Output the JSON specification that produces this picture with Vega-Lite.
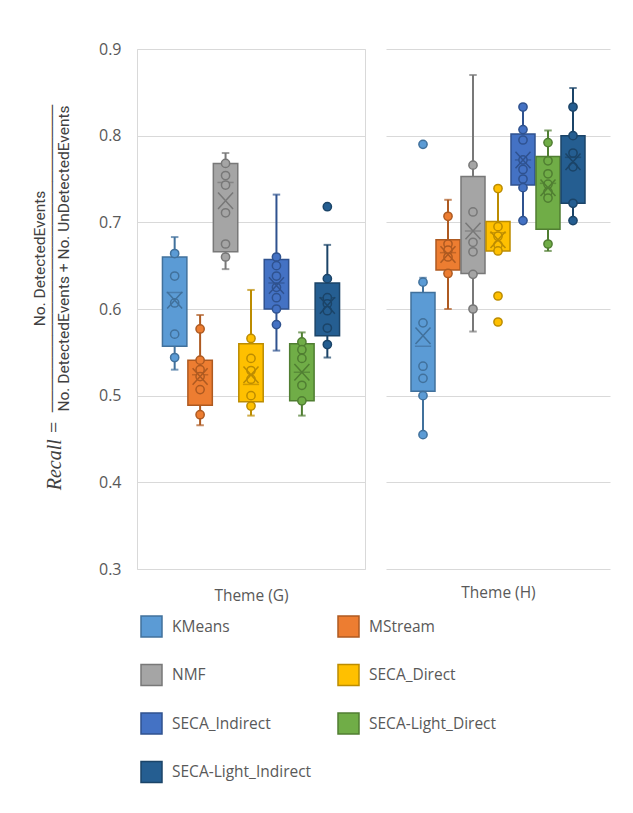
{
  "$schema": "https://vega.github.io/schema/vega-lite/v6.json",
  "background": "white",
  "padding": {"left": 32, "top": 40, "right": 5, "bottom": 5},
  "datasets": {
    "box": [
      {"theme": "G", "method": "KMeans", "lo": 0.530, "q1": 0.557, "med": 0.619, "q3": 0.660, "hi": 0.683, "mean": 0.610},
      {"theme": "G", "method": "MStream", "lo": 0.466, "q1": 0.489, "med": 0.524, "q3": 0.541, "hi": 0.593, "mean": 0.522},
      {"theme": "G", "method": "NMF", "lo": 0.646, "q1": 0.666, "med": 0.746, "q3": 0.768, "hi": 0.780, "mean": 0.725},
      {"theme": "G", "method": "SECA_Direct", "lo": 0.477, "q1": 0.493, "med": 0.513, "q3": 0.560, "hi": 0.622, "mean": 0.524},
      {"theme": "G", "method": "SECA_Indirect", "lo": 0.552, "q1": 0.600, "med": 0.630, "q3": 0.657, "hi": 0.732, "mean": 0.627},
      {"theme": "G", "method": "SECA-Light_Direct", "lo": 0.477, "q1": 0.494, "med": 0.527, "q3": 0.560, "hi": 0.573, "mean": 0.527},
      {"theme": "G", "method": "SECA-Light_Indirect", "lo": 0.544, "q1": 0.569, "med": 0.613, "q3": 0.630, "hi": 0.674, "mean": 0.604},
      {"theme": "H", "method": "KMeans", "lo": 0.455, "q1": 0.505, "med": 0.557, "q3": 0.619, "hi": 0.636, "mean": 0.569},
      {"theme": "H", "method": "MStream", "lo": 0.600, "q1": 0.645, "med": 0.665, "q3": 0.680, "hi": 0.726, "mean": 0.663},
      {"theme": "H", "method": "NMF", "lo": 0.574, "q1": 0.641, "med": 0.690, "q3": 0.753, "hi": 0.870, "mean": 0.690},
      {"theme": "H", "method": "SECA_Direct", "lo": 0.666, "q1": 0.667, "med": 0.688, "q3": 0.701, "hi": 0.739, "mean": 0.680},
      {"theme": "H", "method": "SECA_Indirect", "lo": 0.702, "q1": 0.743, "med": 0.772, "q3": 0.802, "hi": 0.833, "mean": 0.772},
      {"theme": "H", "method": "SECA-Light_Direct", "lo": 0.667, "q1": 0.692, "med": 0.745, "q3": 0.776, "hi": 0.806, "mean": 0.740},
      {"theme": "H", "method": "SECA-Light_Indirect", "lo": 0.702, "q1": 0.722, "med": 0.775, "q3": 0.800, "hi": 0.855, "mean": 0.770}
    ],
    "pts": [
      {"theme": "G", "method": "KMeans", "value": 0.664},
      {"theme": "G", "method": "KMeans", "value": 0.638},
      {"theme": "G", "method": "KMeans", "value": 0.607},
      {"theme": "G", "method": "KMeans", "value": 0.571},
      {"theme": "G", "method": "KMeans", "value": 0.544},
      {"theme": "G", "method": "MStream", "value": 0.577},
      {"theme": "G", "method": "MStream", "value": 0.541},
      {"theme": "G", "method": "MStream", "value": 0.530},
      {"theme": "G", "method": "MStream", "value": 0.522},
      {"theme": "G", "method": "MStream", "value": 0.507},
      {"theme": "G", "method": "MStream", "value": 0.478},
      {"theme": "G", "method": "NMF", "value": 0.768},
      {"theme": "G", "method": "NMF", "value": 0.754},
      {"theme": "G", "method": "NMF", "value": 0.743},
      {"theme": "G", "method": "NMF", "value": 0.711},
      {"theme": "G", "method": "NMF", "value": 0.675},
      {"theme": "G", "method": "NMF", "value": 0.660},
      {"theme": "G", "method": "SECA_Direct", "value": 0.566},
      {"theme": "G", "method": "SECA_Direct", "value": 0.543},
      {"theme": "G", "method": "SECA_Direct", "value": 0.529},
      {"theme": "G", "method": "SECA_Direct", "value": 0.519},
      {"theme": "G", "method": "SECA_Direct", "value": 0.500},
      {"theme": "G", "method": "SECA_Direct", "value": 0.488},
      {"theme": "G", "method": "SECA_Indirect", "value": 0.660},
      {"theme": "G", "method": "SECA_Indirect", "value": 0.650},
      {"theme": "G", "method": "SECA_Indirect", "value": 0.638},
      {"theme": "G", "method": "SECA_Indirect", "value": 0.625},
      {"theme": "G", "method": "SECA_Indirect", "value": 0.613},
      {"theme": "G", "method": "SECA_Indirect", "value": 0.600},
      {"theme": "G", "method": "SECA_Indirect", "value": 0.582},
      {"theme": "G", "method": "SECA-Light_Direct", "value": 0.562},
      {"theme": "G", "method": "SECA-Light_Direct", "value": 0.553},
      {"theme": "G", "method": "SECA-Light_Direct", "value": 0.543},
      {"theme": "G", "method": "SECA-Light_Direct", "value": 0.512},
      {"theme": "G", "method": "SECA-Light_Direct", "value": 0.494},
      {"theme": "G", "method": "SECA-Light_Indirect", "value": 0.718},
      {"theme": "G", "method": "SECA-Light_Indirect", "value": 0.635},
      {"theme": "G", "method": "SECA-Light_Indirect", "value": 0.613},
      {"theme": "G", "method": "SECA-Light_Indirect", "value": 0.606},
      {"theme": "G", "method": "SECA-Light_Indirect", "value": 0.598},
      {"theme": "G", "method": "SECA-Light_Indirect", "value": 0.578},
      {"theme": "G", "method": "SECA-Light_Indirect", "value": 0.559},
      {"theme": "H", "method": "KMeans", "value": 0.790},
      {"theme": "H", "method": "KMeans", "value": 0.631},
      {"theme": "H", "method": "KMeans", "value": 0.584},
      {"theme": "H", "method": "KMeans", "value": 0.534},
      {"theme": "H", "method": "KMeans", "value": 0.520},
      {"theme": "H", "method": "KMeans", "value": 0.500},
      {"theme": "H", "method": "KMeans", "value": 0.455},
      {"theme": "H", "method": "MStream", "value": 0.707},
      {"theme": "H", "method": "MStream", "value": 0.675},
      {"theme": "H", "method": "MStream", "value": 0.668},
      {"theme": "H", "method": "MStream", "value": 0.660},
      {"theme": "H", "method": "MStream", "value": 0.641},
      {"theme": "H", "method": "NMF", "value": 0.766},
      {"theme": "H", "method": "NMF", "value": 0.712},
      {"theme": "H", "method": "NMF", "value": 0.677},
      {"theme": "H", "method": "NMF", "value": 0.666},
      {"theme": "H", "method": "NMF", "value": 0.640},
      {"theme": "H", "method": "NMF", "value": 0.600},
      {"theme": "H", "method": "SECA_Direct", "value": 0.739},
      {"theme": "H", "method": "SECA_Direct", "value": 0.695},
      {"theme": "H", "method": "SECA_Direct", "value": 0.684},
      {"theme": "H", "method": "SECA_Direct", "value": 0.674},
      {"theme": "H", "method": "SECA_Direct", "value": 0.667},
      {"theme": "H", "method": "SECA_Direct", "value": 0.615},
      {"theme": "H", "method": "SECA_Direct", "value": 0.585},
      {"theme": "H", "method": "SECA_Indirect", "value": 0.833},
      {"theme": "H", "method": "SECA_Indirect", "value": 0.807},
      {"theme": "H", "method": "SECA_Indirect", "value": 0.795},
      {"theme": "H", "method": "SECA_Indirect", "value": 0.772},
      {"theme": "H", "method": "SECA_Indirect", "value": 0.761},
      {"theme": "H", "method": "SECA_Indirect", "value": 0.750},
      {"theme": "H", "method": "SECA_Indirect", "value": 0.740},
      {"theme": "H", "method": "SECA_Indirect", "value": 0.702},
      {"theme": "H", "method": "SECA-Light_Direct", "value": 0.792},
      {"theme": "H", "method": "SECA-Light_Direct", "value": 0.771},
      {"theme": "H", "method": "SECA-Light_Direct", "value": 0.756},
      {"theme": "H", "method": "SECA-Light_Direct", "value": 0.744},
      {"theme": "H", "method": "SECA-Light_Direct", "value": 0.735},
      {"theme": "H", "method": "SECA-Light_Direct", "value": 0.728},
      {"theme": "H", "method": "SECA-Light_Direct", "value": 0.675},
      {"theme": "H", "method": "SECA-Light_Indirect", "value": 0.833},
      {"theme": "H", "method": "SECA-Light_Indirect", "value": 0.800},
      {"theme": "H", "method": "SECA-Light_Indirect", "value": 0.780},
      {"theme": "H", "method": "SECA-Light_Indirect", "value": 0.764},
      {"theme": "H", "method": "SECA-Light_Indirect", "value": 0.722},
      {"theme": "H", "method": "SECA-Light_Indirect", "value": 0.702}
    ]
  },
  "spacing": 20,
  "hconcat": [
    {
      "width": 228,
      "height": 520,
      "view": {"stroke": "#D9D9D9"},
      "resolve": {"axis": {"y": "independent"}},
      "layer": [
        {
          "encoding": {
            "x": {"field": "method", "type": "nominal",
              "scale": {"domain": ["KMeans","MStream","NMF","SECA_Direct","SECA_Indirect","SECA-Light_Direct","SECA-Light_Indirect"], "paddingInner": 0.04, "paddingOuter": 3.5},
              "axis": {"title": "Theme (G)", "labels": false, "ticks": false, "domain": false, "titlePadding": 19}}
          },
          "layer": [
            {
              "data": {"name": "box"},
              "transform": [{"filter": "datum.theme === 'G'"}],
              "mark": {"type": "rule", "strokeWidth": 2},
              "encoding": {
                "y": {"field": "lo", "type": "quantitative",
                  "scale": {"domain": [0.3, 0.9], "nice": false, "zero": false},
                  "axis": {"values": [0.3,0.4,0.5,0.6,0.7,0.8,0.9], "format": ".1f", "grid": true, "ticks": false, "domain": false, "labelPadding": 16,
                    "title": ["No. DetectedEvents", "────────────────────────────", "No. DetectedEvents + No. UnDetectedEvents"],
                    "titleFont": "Roboto", "titleFontSize": 15.5, "titleLineHeight": 12, "titleColor": "#404040", "titlePadding": 27, "titleY": 209}},
                "y2": {"field": "hi"},
                "stroke": {"field": "method", "type": "nominal", "legend": {"title": null},
                  "scale": {"domain": ["KMeans","MStream","NMF","SECA_Direct","SECA_Indirect","SECA-Light_Direct","SECA-Light_Indirect"],
                    "range": ["#41719C","#AE5A21","#787878","#BC8C00","#2F528F","#507E32","#1B4468"]}}
              }
            },
            {
              "data": {"name": "box"},
              "transform": [{"filter": "datum.theme === 'G'"}],
              "mark": {"type": "tick", "filled": false, "thickness": 0.5, "strokeWidth": 1.5, "size": 6},
              "encoding": {
                "y": {"field": "lo", "type": "quantitative"},
                "stroke": {"field": "method", "type": "nominal"}
              }
            },
            {
              "data": {"name": "box"},
              "transform": [{"filter": "datum.theme === 'G'"}],
              "mark": {"type": "tick", "filled": false, "thickness": 0.5, "strokeWidth": 1.5, "size": 6},
              "encoding": {
                "y": {"field": "hi", "type": "quantitative"},
                "stroke": {"field": "method", "type": "nominal"}
              }
            },
            {
              "data": {"name": "box"},
              "transform": [{"filter": "datum.theme === 'G'"}],
              "mark": {"type": "bar", "strokeWidth": 1.5},
              "encoding": {
                "y": {"field": "q1", "type": "quantitative"},
                "y2": {"field": "q3"},
                "fill": {"field": "method", "type": "nominal", "legend": {"title": null},
                  "scale": {"domain": ["KMeans","MStream","NMF","SECA_Direct","SECA_Indirect","SECA-Light_Direct","SECA-Light_Indirect"],
                    "range": ["#5B9BD5","#ED7D31","#A5A5A5","#FFC000","#4472C4","#70AD47","#255E91"]}},
                "stroke": {"field": "method", "type": "nominal"}
              }
            },
            {
              "data": {"name": "box"},
              "transform": [{"filter": "datum.theme === 'G'"}],
              "mark": {"type": "tick", "filled": false, "thickness": 0.3, "strokeWidth": 1.2, "size": 15},
              "encoding": {
                "y": {"field": "med", "type": "quantitative"},
                "stroke": {"field": "method", "type": "nominal"}
              }
            },
            {
              "data": {"name": "pts"},
              "transform": [{"filter": "datum.theme === 'G'"}],
              "mark": {"type": "point", "shape": "circle", "size": 68, "filled": true, "opacity": 1, "strokeWidth": 1.5},
              "encoding": {
                "y": {"field": "value", "type": "quantitative"},
                "fill": {"field": "method", "type": "nominal"},
                "stroke": {"field": "method", "type": "nominal"}
              }
            },
            {
              "data": {"name": "box"},
              "transform": [{"filter": "datum.theme === 'G'"}],
              "mark": {"type": "point", "shape": "M-1,-1.1L1,1.1M1,-1.1L-1,1.1", "size": 225, "filled": false, "opacity": 1, "strokeWidth": 1.5},
              "encoding": {
                "y": {"field": "mean", "type": "quantitative"},
                "stroke": {"field": "method", "type": "nominal"}
              }
            }
          ]
        },
        {
          "data": {"name": "box"},
          "mark": {"type": "rule", "opacity": 0},
          "encoding": {
            "y": {"field": "lo", "type": "quantitative",
              "scale": {"domain": [0.3, 0.9], "nice": false, "zero": false},
              "axis": {"orient": "left", "title": "Recall =", "labels": false, "ticks": false, "domain": false, "grid": false,
                "titleFont": "Liberation Serif", "titleFontStyle": "italic", "titleFontWeight": "normal", "titleFontSize": 20, "titleColor": "#404040",
                "titleX": -77, "titleY": 406, "titleAngle": 270, "titleAlign": "center", "titleBaseline": "alphabetic"}}
          }
        }
      ]
    },
    {
      "width": 224,
      "height": 520,
      "encoding": {
        "x": {"field": "method", "type": "nominal",
          "scale": {"domain": ["KMeans","MStream","NMF","SECA_Direct","SECA_Indirect","SECA-Light_Direct","SECA-Light_Indirect"], "paddingInner": 0.04, "paddingOuter": 3.5},
          "axis": {"title": "Theme (H)", "labels": false, "ticks": false, "domain": false, "titlePadding": 16}}
      },
      "layer": [
        {
          "data": {"name": "box"},
          "transform": [{"filter": "datum.theme === 'H'"}],
          "mark": {"type": "rule", "strokeWidth": 2},
          "encoding": {
            "y": {"field": "lo", "type": "quantitative",
              "scale": {"domain": [0.3, 0.9], "nice": false, "zero": false},
              "axis": {"values": [0.3,0.4,0.5,0.6,0.7,0.8,0.9], "grid": true, "labels": false, "ticks": false, "domain": false, "title": null}},
            "y2": {"field": "hi"},
            "stroke": {"field": "method", "type": "nominal"}
          }
        },
        {
          "data": {"name": "box"},
          "transform": [{"filter": "datum.theme === 'H'"}],
          "mark": {"type": "tick", "filled": false, "thickness": 0.5, "strokeWidth": 1.5, "size": 6},
          "encoding": {
            "y": {"field": "lo", "type": "quantitative"},
            "stroke": {"field": "method", "type": "nominal"}
          }
        },
        {
          "data": {"name": "box"},
          "transform": [{"filter": "datum.theme === 'H'"}],
          "mark": {"type": "tick", "filled": false, "thickness": 0.5, "strokeWidth": 1.5, "size": 6},
          "encoding": {
            "y": {"field": "hi", "type": "quantitative"},
            "stroke": {"field": "method", "type": "nominal"}
          }
        },
        {
          "data": {"name": "box"},
          "transform": [{"filter": "datum.theme === 'H'"}],
          "mark": {"type": "bar", "strokeWidth": 1.5},
          "encoding": {
            "y": {"field": "q1", "type": "quantitative"},
            "y2": {"field": "q3"},
            "fill": {"field": "method", "type": "nominal"},
            "stroke": {"field": "method", "type": "nominal"}
          }
        },
        {
          "data": {"name": "box"},
          "transform": [{"filter": "datum.theme === 'H'"}],
          "mark": {"type": "tick", "filled": false, "thickness": 0.3, "strokeWidth": 1.2, "size": 15},
          "encoding": {
            "y": {"field": "med", "type": "quantitative"},
            "stroke": {"field": "method", "type": "nominal"}
          }
        },
        {
          "data": {"name": "pts"},
          "transform": [{"filter": "datum.theme === 'H'"}],
          "mark": {"type": "point", "shape": "circle", "size": 68, "filled": true, "opacity": 1, "strokeWidth": 1.5},
          "encoding": {
            "y": {"field": "value", "type": "quantitative"},
            "fill": {"field": "method", "type": "nominal"},
            "stroke": {"field": "method", "type": "nominal"}
          }
        },
        {
          "data": {"name": "box"},
          "transform": [{"filter": "datum.theme === 'H'"}],
          "mark": {"type": "point", "shape": "M-1,-1.1L1,1.1M1,-1.1L-1,1.1", "size": 225, "filled": false, "opacity": 1, "strokeWidth": 1.5},
          "encoding": {
            "y": {"field": "mean", "type": "quantitative"},
            "stroke": {"field": "method", "type": "nominal"}
          }
        }
      ]
    }
  ],
  "resolve": {"scale": {"fill": "shared", "stroke": "shared", "y": "shared", "x": "independent"}},
  "config": {
    "font": "Open Sans",
    "view": {"stroke": null},
    "axis": {"labelColor": "#595959", "titleColor": "#595959", "gridColor": "#D9D9D9", "gridWidth": 1, "labelFontSize": 16, "labelFont": "Open Sans", "titleFont": "Open Sans", "titleFontSize": 15.5, "titleFontWeight": "normal"},
    "legend": {"orient": "none", "legendX": 3, "legendY": 566, "direction": "horizontal", "columns": 2, "symbolType": "square", "symbolSize": 441, "symbolStrokeWidth": 1.5, "labelFontSize": 15.5, "labelColor": "#595959", "labelFont": "Open Sans", "rowPadding": 21.5, "columnPadding": 23, "labelOffset": 9, "symbolOpacity": 1}
  }
}
